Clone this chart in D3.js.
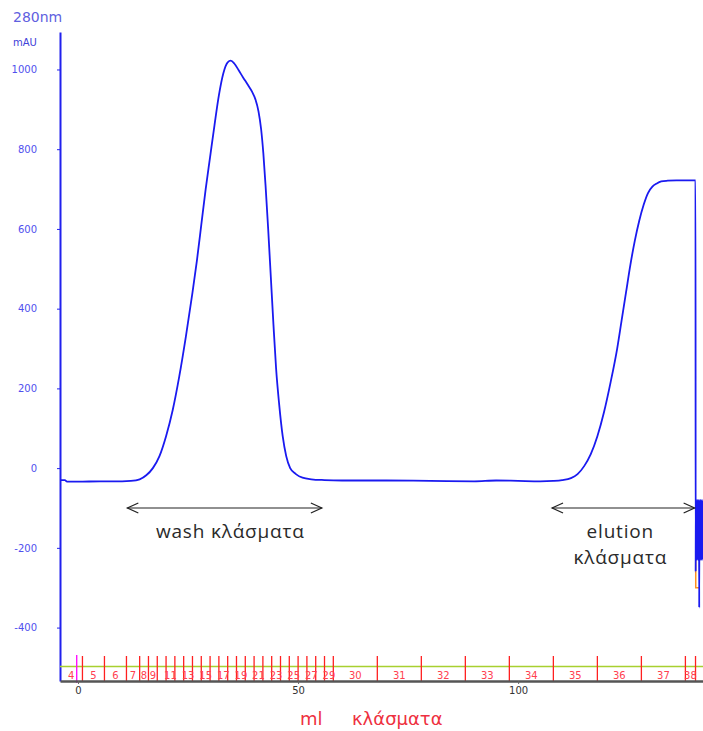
<!DOCTYPE html>
<html>
<head>
<meta charset="utf-8">
<script src="https://cdn.jsdelivr.net/npm/d3@7"></script>
<style>
  body { margin: 0; background: #fff; }
  svg { display: block; }
</style>
</head>
<body>
<svg id="chart"></svg>
<script>
// UV 280nm trace (ml, mAU)
var uvMl = [-4.1, -3, -2.5, 0, 5, 10, 12, 14, 15.5, 17, 18.5, 20, 21.5, 23, 24.5, 26, 27, 28, 29, 30, 31, 32, 33, 34, 34.7,
            35.5, 36.5, 37.5, 38.5, 39.5, 40.3, 41, 41.6, 42.1, 42.6, 43.2, 43.8, 44.4, 45, 45.7, 46.5, 47.3, 48.2, 49.5,
            51, 53, 56, 60, 70, 80, 90, 95, 100, 105, 108, 110, 112, 113.5, 115, 116.5, 118, 119.5, 121, 122.5, 123.5,
            124.5, 125.5, 126.5, 127.5, 128.5, 129.5, 130.5, 131.5, 132.5, 134, 136, 140.3,
            140.33, 140.38, 140.42, 140.46, 140.5, 140.54, 140.58, 140.62, 140.66, 140.7, 140.74, 140.78, 140.82, 140.86,
            140.9, 140.94, 140.98, 141.02, 141.06, 141.1, 141.14, 141.18, 141.22, 141.26, 141.3, 141.34, 141.38, 141.42,
            141.46, 141.5, 141.54, 141.58, 141.62, 141.66, 141.7, 141.74, 141.78, 141.82, 141.86, 141.9, 141.95];
var uvMAU = [-30, -30, -34, -34, -33, -33, -32, -28, -18, 0, 30, 80, 145, 230, 330, 440, 520, 610, 700, 780, 860, 935, 990, 1018, 1022,
             1015, 998, 980, 963, 945, 925, 895, 850, 790, 710, 600, 480, 360, 250, 160, 80, 30, 0, -15,
             -24, -28, -30, -31, -31, -32, -33, -31, -32, -33, -32, -30, -25, -15, 5, 35, 80, 140, 215, 300, 370,
             440, 510, 570, 620, 660, 690, 706, 714, 719, 721, 722, 722,
             -260, -80, -230, -85, -225, -80, -230, -85, -225, -80, -230, -85, -225, -80,
             -230, -85, -225, -80, -230, -85, -350, -80, -230, -85, -225, -80, -230, -85,
             -225, -80, -230, -85, -225, -80, -230, -85, -225, -80, -230, -85, -120];

// second (orange) trace near the end
var orMl = [140.35, 140.35, 141.3];
var orVal = [-225, -300, -300];

// fractions
var fracNames = [4, 5, 6, 7, 8, 9, 10, 11, 12, 13, 14, 15, 16, 17, 18, 19, 20, 21, 22, 23, 24, 25, 26, 27, 28, 29,
                 30, 31, 32, 33, 34, 35, 36, 37, 38];
var fracStart = [-5, 1, 6, 11, 14, 16, 18, 20, 22, 24, 26, 28, 30, 32, 34, 36, 38, 40, 42, 44, 46, 48, 50, 52, 54, 56,
                 58, 68, 78, 88, 98, 108, 118, 128, 138];
var fracEnd = 140.3;
var injectMl = -0.3;

var yTicks = [-400, -200, 0, 200, 400, 600, 800, 1000];
var xTicks = [0, 50, 100];

var width = 703, height = 731;
var svg = d3.select("#chart").attr("width", width).attr("height", height);

var x = d3.scaleLinear().domain([-4.1, 142]).range([60, 703]);
var y = d3.scaleLinear().domain([-534, 1094]).range([681, 32]);

svg.append("defs").append("clipPath").attr("id", "clip")
   .append("rect").attr("x", 60).attr("y", 20).attr("width", 643).attr("height", 665);

// title labels
svg.append("text").attr("x", 13).attr("y", 22).text("280nm")
   .style("font-family", "DejaVu Sans").style("font-size", "14px").style("fill", "#6060e0");
svg.append("text").attr("x", 13).attr("y", 46).text("mAU")
   .style("font-family", "DejaVu Sans").style("font-size", "10px").style("fill", "#4040d8");

// y axis
var yAxis = d3.axisLeft(y).tickValues(yTicks).tickSize(3).tickPadding(20).tickSizeOuter(0)
  .tickFormat(function(d) { return String(d); });
var gy = svg.append("g").attr("transform", "translate(60,0)").call(yAxis);
gy.select(".domain").attr("stroke", "#2020ee").attr("stroke-width", 2);
gy.selectAll(".tick line").attr("stroke", "#2020ee");
gy.selectAll(".tick text").style("font-family", "DejaVu Sans").style("font-size", "10px").style("fill", "#5050ee");

// fraction marks
var fracRows = fracNames.map(function(n, i) {
  var s = fracStart[i], e = i < fracNames.length - 1 ? fracStart[i + 1] : fracEnd;
  return { name: n, start: s, end: e };
});
svg.append("line").attr("x1", 60).attr("x2", 703).attr("y1", 666.5).attr("y2", 666.5)
   .attr("stroke", "#a8d030").attr("stroke-width", 1.5);
svg.selectAll(".frac").data(fracRows.filter(function(d) { return d.start > -4.1; }))
   .enter().append("line")
   .attr("x1", function(d) { return x(d.start); }).attr("x2", function(d) { return x(d.start); })
   .attr("y1", 656).attr("y2", 681)
   .attr("stroke", "#ff2020").attr("stroke-width", 1.3);
svg.append("line").attr("x1", x(fracEnd)).attr("x2", x(fracEnd)).attr("y1", 656).attr("y2", 681)
   .attr("stroke", "#ff2020").attr("stroke-width", 1.3);
svg.append("line").attr("x1", x(injectMl)).attr("x2", x(injectMl)).attr("y1", 655).attr("y2", 683)
   .attr("stroke", "#ff00ff").attr("stroke-width", 1.3);
svg.selectAll(".fracLabel").data(fracRows.filter(function(d) {
     return !(d.name >= 10 && d.name <= 28 && d.name % 2 === 0);
   }))
   .enter().append("text")
   .attr("x", function(d) { return x((Math.max(d.start, -4.1) + d.end) / 2); })
   .attr("y", 679)
   .attr("text-anchor", "middle")
   .style("font-family", "DejaVu Sans").style("font-size", "10px").style("fill", "#ff4050")
   .text(function(d) { return d.name; });

// x axis
var xAxis = d3.axisBottom(x).tickValues(xTicks).tickSize(3).tickPadding(3).tickSizeOuter(0);
var gx = svg.append("g").attr("transform", "translate(0,681)").call(xAxis);
gx.select(".domain").attr("stroke", "#555").attr("stroke-width", 2.5);
gx.selectAll(".tick line").attr("stroke", "#666");
gx.selectAll(".tick text").style("font-family", "DejaVu Sans").style("font-size", "10px").style("fill", "#333");

// traces
var line = d3.line()
  .x(function(d) { return x(d[0]); })
  .y(function(d) { return y(d[1]); });
var plot = svg.append("g").attr("clip-path", "url(#clip)");
plot.append("path").datum(d3.zip(orMl, orVal)).attr("d", line)
    .attr("fill", "none").attr("stroke", "#ff9020").attr("stroke-width", 1.5);
plot.append("path").datum(d3.zip(uvMl, uvMAU)).attr("d", line.curve(d3.curveMonotoneX))
    .attr("fill", "none").attr("stroke", "#1a1af0").attr("stroke-width", 1.8);

// annotations
var notes = [
  { from: 11.2, to: 55.4, at: -100, lines: ["wash κλάσματα"], tx: 34.6 },
  { from: 107.7, to: 140.1, at: -100, lines: ["elution", "κλάσματα"], tx: 123.2 }
];
notes.forEach(function(n) {
  var x1 = x(n.from), x2 = x(n.to), yy = y(n.at);
  svg.append("line").attr("x1", x1).attr("x2", x2).attr("y1", yy).attr("y2", yy)
     .attr("stroke", "#222").attr("stroke-width", 1.2);
  svg.append("path").attr("d", "M" + (x1 + 11) + "," + (yy - 5) + "L" + x1 + "," + yy + "L" + (x1 + 11) + "," + (yy + 5))
     .attr("fill", "none").attr("stroke", "#222").attr("stroke-width", 1.2);
  svg.append("path").attr("d", "M" + (x2 - 11) + "," + (yy - 5) + "L" + x2 + "," + yy + "L" + (x2 - 11) + "," + (yy + 5))
     .attr("fill", "none").attr("stroke", "#222").attr("stroke-width", 1.2);
  n.lines.forEach(function(t, i) {
    svg.append("text").attr("x", x(n.tx)).attr("y", yy + 30 + i * 26)
       .attr("text-anchor", "middle")
       .style("font-family", "Open Sans").style("font-size", "19px").style("letter-spacing", "0.8px")
       .style("fill", "#2a2a2a")
       .text(t);
  });
});

// axis titles
svg.append("text").attr("x", 300).attr("y", 725).text("ml")
   .style("font-family", "DejaVu Sans").style("font-size", "18px").style("fill", "#ee3040");
svg.append("text").attr("x", 352).attr("y", 725).text("κλάσματα")
   .style("font-family", "DejaVu Sans").style("font-size", "18px").style("fill", "#ee3040");
</script>
</body>
</html>
